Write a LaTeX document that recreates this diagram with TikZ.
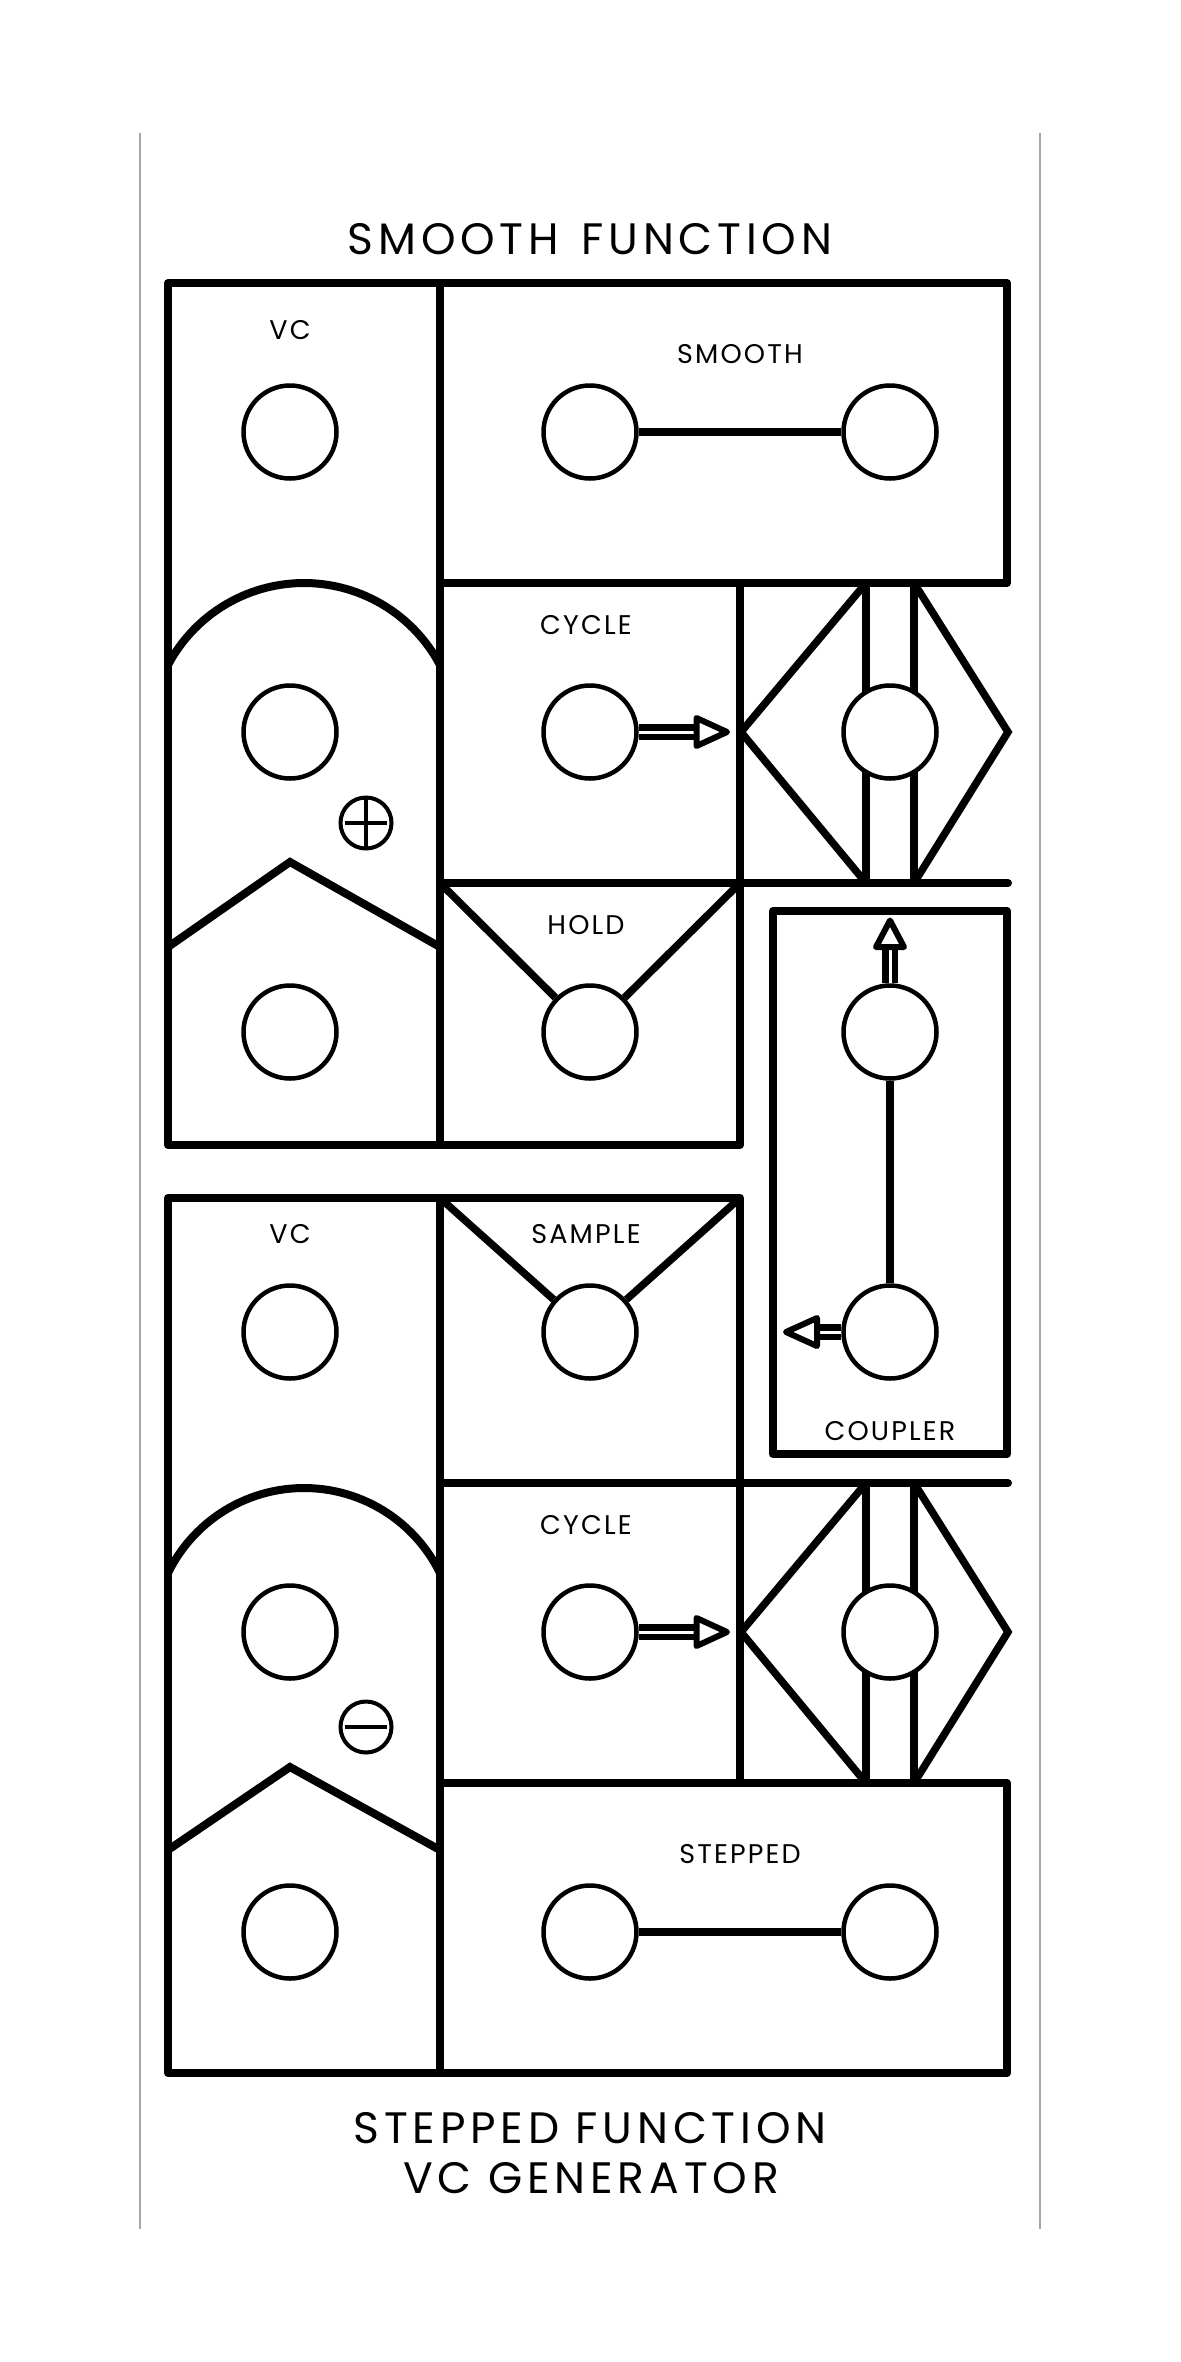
\documentclass[tikz,border=0pt]{standalone}
\usepackage{fontspec}
\setmainfont{Poppins}
\newfontfamily\titlefont[LetterSpace=11]{Poppins}
\newfontfamily\labelfont[LetterSpace=8]{Poppins}
\begin{document}
\begin{tikzpicture}[x=1pt,y=-1pt,
  frame/.style={line width=8pt, line cap=round, line join=round},
  house/.style={line width=8pt, line join=miter},
  deco/.style={line width=7.5pt, line join=miter},
  jack/.style={circle, draw, line width=4.5pt, minimum size=93pt, inner sep=0pt, fill=white},
  link/.style={line width=8pt},
  shaft/.style={line width=6.5pt, double=white, double distance=3pt},
  head/.style={line width=6pt, line join=round, fill=white},
  sign/.style={line width=4pt},
  lbl/.style={font=\labelfont\fontsize{27}{27}\selectfont, inner sep=0pt},
  ttl/.style={font=\titlefont\fontsize{44}{44}\selectfont, inner sep=0pt},
  guide/.style={line width=2pt, draw=black!35}]
\useasboundingbox[fill=white] (0,0) rectangle (1181,2362);

% guide lines
\draw[guide] (140,133) -- (140,2229);
\draw[guide] (1040,133) -- (1040,2229);

% upper frame
\draw[frame] (440,583) -- (1007,583) -- (1007,283) -- (168,283) -- (168,1145) -- (740,1145) -- (740,583);
\draw[frame] (440,283) -- (440,1145);
\draw[frame] (440,883) -- (1008,883);

% lower frame
\draw[frame] (440,1483) -- (1008,1483);
\draw[frame] (740,1783) -- (740,1198) -- (168,1198) -- (168,2073) -- (1007,2073) -- (1007,1783) -- (440,1783);
\draw[frame] (440,1198) -- (440,2073);

% coupler box
\draw[frame] (773,911) rectangle (1007,1454);

% arches
\draw[frame] plot[domain=-152.2:-27.8, samples=60, variable=\t] ({304+153.8*cos(\t)},{736.8+153.8*sin(\t)});
\draw[frame] plot[domain=-154:-26, samples=60, variable=\t] ({304+151.3*cos(\t)},{1639.3+151.3*sin(\t)});

% houses
\draw[house] (168,947) -- (290,862) -- (440,947);
\draw[house] (168,1850) -- (290,1767) -- (440,1850);

% diamonds and bars
\draw[deco] (866,583) -- (741,732) -- (866,883);
\draw[deco] (914,583) -- (1008,732) -- (914,883);
\draw[deco] (866,583) -- (866,883) (914,583) -- (914,883);
\draw[deco] (866,1483) -- (741,1632) -- (866,1783);
\draw[deco] (914,1483) -- (1008,1632) -- (914,1783);
\draw[deco] (866,1483) -- (866,1783) (914,1483) -- (914,1783);

% plus / minus signs
\draw[sign] (366,823) circle[radius=25.5pt];
\draw[sign] (345,823) -- (387,823) (366,797) -- (366,849);
\draw[sign] (366,1727) circle[radius=25.5pt];
\draw[sign] (345,1727) -- (387,1727);

% jacks
\node[jack] (vc1) at (290,432) {};
\node[jack] (sm1) at (590,432) {};
\node[jack] (sm2) at (890,432) {};
\node[jack] (rate1) at (290,732) {};
\node[jack] (cyc1) at (590,732) {};
\node[jack] (out1) at (890,732) {};
\node[jack] (in1) at (290,1032) {};
\node[jack] (hold) at (590,1032) {};
\node[jack] (cp1) at (890,1032) {};
\node[jack] (vc2) at (290,1332) {};
\node[jack] (samp) at (590,1332) {};
\node[jack] (cp2) at (890,1332) {};
\node[jack] (rate2) at (290,1632) {};
\node[jack] (cyc2) at (590,1632) {};
\node[jack] (out2) at (890,1632) {};
\node[jack] (in2) at (290,1932) {};
\node[jack] (st1) at (590,1932) {};
\node[jack] (st2) at (890,1932) {};

% links
\draw[link] (sm1) -- (sm2);
\draw[link] (st1) -- (st2);
\draw[link] (cp1) -- (cp2);

% V lines
\coordinate (hA) at (440,883);
\coordinate (hB) at (740,883);
\coordinate (sA) at (440,1198);
\coordinate (sB) at (740,1198);
\draw[deco] (hA) -- (hold);
\draw[deco] (hB) -- (hold);
\draw[deco] (sA) -- (samp);
\draw[deco] (sB) -- (samp);

% arrows
\coordinate (a1b) at (696.5,732);
\coordinate (a1t) at (727,732);
\draw[shaft] (cyc1.east) -- (a1b);
\draw[head] (a1t) -- ++(-30.5,-14) -- ++(0,28) -- cycle;
\coordinate (a2b) at (696.5,1632);
\coordinate (a2t) at (727,1632);
\draw[shaft] (cyc2.east) -- (a2b);
\draw[head] (a2t) -- ++(-30.5,-14) -- ++(0,28) -- cycle;
\coordinate (a3b) at (890,947);
\coordinate (a3t) at (890,920.5);
\draw[shaft] (cp1.north) -- (a3b);
\draw[head] (a3t) -- ++(-14,26.5) -- ++(28,0) -- cycle;
\coordinate (a4b) at (817,1332);
\coordinate (a4t) at (786,1332);
\draw[shaft] (cp2.west) -- (a4b);
\draw[head] (a4t) -- ++(31,-14) -- ++(0,28) -- cycle;

% texts
\node[ttl] (t1) at (590,239.5) {SMOOTH\hspace{6pt} FUNCTION};
\node[lbl] (lvc1) at (290,330) {VC};
\node[lbl] (lsm) at (740,354) {SMOOTH};
\node[lbl] (lcy1) at (586,625) {CYCLE};
\node[lbl] (lho) at (586,925) {HOLD};
\node[lbl] (lvc2) at (290,1234.5) {VC};
\node[lbl] (lsa) at (586,1234) {SAMPLE};
\node[lbl] (lcp) at (890,1431) {COUPLER};
\node[lbl] (lcy2) at (586,1525) {CYCLE};
\node[lbl] (lst) at (740,1854) {STEPPED};
\node[ttl] (t2) at (590,2128) {STEPPED FUNCTION};
\node[ttl] (t3) at (591,2178.5) {VC GENERATOR};
\end{tikzpicture}
\end{document}
